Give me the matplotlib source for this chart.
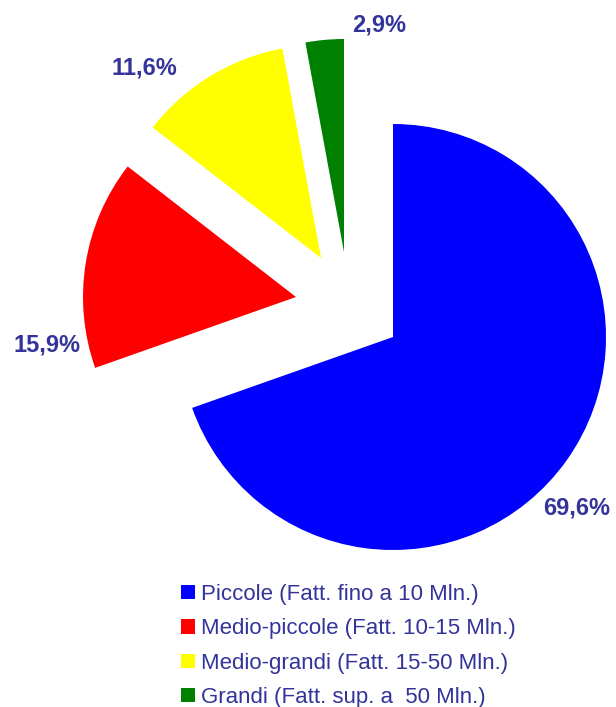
import matplotlib
matplotlib.use('Agg')
import matplotlib.pyplot as plt

# data
labels = ['Piccole (Fatt. fino a 10 Mln.)',
          'Medio-piccole (Fatt. 10-15 Mln.)',
          'Medio-grandi (Fatt. 15-50 Mln.)',
          'Grandi (Fatt. sup. a  50 Mln.)']
shares = [69.6, 15.9, 11.6, 2.9]
pct_text = ['69,6%', '15,9%', '11,6%', '2,9%']
colors = ['#0000ff', '#ff0000', '#ffff00', '#008000']

# layout (pixels of the 616x707 canvas)
W, H = 616, 707
cx, cy, rad = 393, 337, 213
# shift of each slice away from the pie centre (px, px-up)
shifts = [(0, 0), (-97, 40), (-72, 79), (-49, 85)]
label_pos = [(577, 508), (47, 345), (144, 68), (379, 25)]
navy = '#333399'

plt.rcParams['font.family'] = ['Liberation Sans', 'DejaVu Sans']

fig = plt.figure(figsize=(W / 100, H / 100), dpi=100)
ax = fig.add_axes([0, 0, 1, 1])

wedges, _ = ax.pie(shares, colors=colors, startangle=90, counterclock=False,
                   radius=1, wedgeprops=dict(linewidth=0))
for w, (dx, dy) in zip(wedges, shifts):
    w.set_center((dx / rad, dy / rad))

for txt, (px, py) in zip(pct_text, label_pos):
    ax.text((px - cx) / rad, (cy - py) / rad, txt, ha='center', va='center',
            fontsize=17, fontweight='bold', color=navy)

ax.set_aspect('auto')
ax.set_xlim(-cx / rad, (W - cx) / rad)
ax.set_ylim((cy - H) / rad, cy / rad)
ax.axis('off')

leg = fig.legend(wedges, labels, loc='upper left',
                 bbox_to_anchor=(181 / W, 1 - 584 / H),
                 frameon=False, fontsize=16, handlelength=0.63,
                 handleheight=0.63, handletextpad=0.27, labelspacing=0.6,
                 borderpad=0, borderaxespad=0)
for t in leg.get_texts():
    t.set_color(navy)

fig.savefig('out.png', dpi=100)
